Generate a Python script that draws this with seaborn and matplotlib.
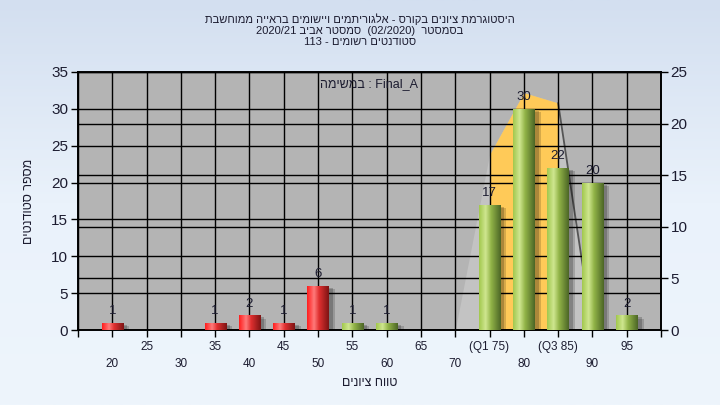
import numpy as np
import pandas as pd
import matplotlib
matplotlib.use("Agg")
import matplotlib.pyplot as plt
import matplotlib.patheffects as pe
from matplotlib.colors import LinearSegmentedColormap
import seaborn as sns

# ---- data -------------------------------------------------------------
grades = [20, 35, 40, 45, 50, 55, 60, 75, 80, 85, 90, 95]
counts = [1, 1, 2, 1, 6, 1, 1, 17, 30, 22, 20, 2]
pass_grade = 55

tick_values = [20, 25, 30, 35, 40, 45, 50, 55, 60, 65, 70, 75, 80, 85, 90, 95]
tick_labels = ["20", "25", "30", "35", "40", "45", "50", "55", "60", "65",
               "70", "(Q1 75)", "80", "(Q3 85)", "90", "95"]

# distribution envelope (right-hand scale) and inter-quartile part of it
env_x = [70, 75, 80, 85, 90]
env_y = [0, 17, 23, 22, 0]
q1, q3 = 75, 85

title_lines = [
    "היסטוגרמת ציונים בקורס - אלגוריתמים ויישומים בראייה ממוחשבת",
    "בסמסטר  (02/2020)  סמסטר אביב 2020/21",
    "סטודנטים רשומים - 113",
]
task_label = ("במשימה", "Final_A")
y_label = "מספר סטודנטים"
x_label = "טווח ציונים"


def is_hebrew(word):
    return any("\u0590" <= ch <= "\u05ff" for ch in word)


def rtl(text):
    """Lay out a right-to-left line in visual (left-to-right) order."""
    words = text.split(" ")
    return " ".join(w[::-1] if is_hebrew(w) else w for w in reversed(words))


# ---- style -------------------------------------------------------------
sns.set_theme(style="white")
plt.rcParams["font.family"] = ["Liberation Sans", "DejaVu Sans"]
text_color = "#1c1c30"

fig = plt.figure(figsize=(7.2, 4.05), dpi=100)

# soft blue background gradient
bg = fig.add_axes([0, 0, 1, 1], zorder=-10)
bg_grad = np.linspace(0, 1, 256).reshape(-1, 1)
bg_cmap = LinearSegmentedColormap.from_list("bg", ["#d3dff0", "#eaf2fb", "#eef5fc"])
bg.imshow(bg_grad, aspect="auto", cmap=bg_cmap, extent=[0, 1, 0, 1])
bg.set_axis_off()

rect = [78 / 720, 1 - 330 / 405, (661 - 78) / 720, (330 - 72) / 405]
ax2 = fig.add_axes(rect)          # right-hand scale, holds the envelope
ax = fig.add_axes(rect, sharex=ax2, zorder=ax2.get_zorder() + 1)
ax.patch.set_visible(False)

ax2.set_facecolor("#b4b4b4")
ax2.yaxis.tick_right()
ax2.yaxis.set_label_position("right")

# ---- envelope on the right-hand scale -----------------------------------
ax2.fill_between(env_x, env_y, color="#c3c3c3", lw=0, zorder=0.2)
iq = [(x, y) for x, y in zip(env_x, env_y) if q1 <= x <= q3]
ax2.fill_between([p[0] for p in iq], [p[1] for p in iq], color="#ffca58",
                 lw=0, zorder=0.3)
ax2.plot(env_x[-2:], env_y[-2:], color="#555555", lw=1.3, zorder=0.35)

ax2.set_ylim(0, 25)
ax2.set_yticks([0, 5, 10, 15, 20, 25])
ax2.set_axisbelow(True)
ax2.grid(axis="y", color="black", lw=1.0)
ax2.grid(axis="x", visible=False)

# ---- bars --------------------------------------------------------------
df = pd.DataFrame({"grade": grades, "count": counts})
sns.barplot(data=df, x="grade", y="count", native_scale=True, width=0.62,
            color="#cc3333", ax=ax, zorder=3, errorbar=None)

ax.set_xlim(15, 100)
ax.set_ylim(0, 35)

red_cmap = LinearSegmentedColormap.from_list(
    "red", [(0, "#ff1e1e"), (0.32, "#ff7a7a"), (0.55, "#e03030"), (1, "#7e1414")])
green_cmap = LinearSegmentedColormap.from_list(
    "green", [(0, "#a2c84e"), (0.3, "#cfe690"), (0.55, "#92b448"), (1, "#4c6626")])
hgrad = np.linspace(0, 1, 64).reshape(1, -1)

for patch, g in zip(ax.patches, grades):
    x0, y0 = patch.get_x(), patch.get_y()
    w, h = patch.get_width(), patch.get_height()
    patch.set_facecolor("none")
    patch.set_edgecolor("none")
    patch.set_path_effects([
        pe.SimplePatchShadow(offset=(4.5, -2.5), shadow_rgbFace="black", alpha=0.16),
        pe.SimplePatchShadow(offset=(3, -1.5), shadow_rgbFace="black", alpha=0.2),
        pe.Normal(),
    ])
    cmap = green_cmap if g >= pass_grade else red_cmap
    im = ax.imshow(hgrad, cmap=cmap, aspect="auto",
                   extent=[x0, x0 + w, y0, y0 + h], zorder=3.5)
    im.set_clip_path(patch)

ax.set_xlim(15, 100)
ax.set_ylim(0, 35)
ax.set_aspect("auto")

ax.bar_label(ax.containers[0], labels=[str(c) for c in counts], padding=4,
             fontsize=9.5, color=text_color, zorder=5)

# ---- axes, ticks, grid -------------------------------------------------
ax.set_yticks([0, 5, 10, 15, 20, 25, 30, 35])
ax.set_axisbelow(True)
ax.grid(axis="y", color="black", lw=1.0)
ax.grid(axis="x", color="black", lw=1.0)
ax.set_xticks(list(range(15, 101, 5)))
ax.set_xticklabels([])

for a in (ax, ax2):
    for s in a.spines.values():
        s.set_color("black")
        s.set_linewidth(1.2)
        s.set_visible(True)

ax.tick_params(axis="y", direction="out", length=5, width=1, color="black",
               labelsize=11, labelcolor=text_color, pad=2, left=True)
ax2.tick_params(axis="y", direction="out", length=5, width=1, color="black",
                labelsize=11, labelcolor=text_color, pad=2, right=True)
ax.tick_params(axis="x", direction="out", length=5, width=1, color="black",
               bottom=True)
ax2.tick_params(axis="x", bottom=False, labelbottom=False)

# staggered category labels below the axis
for v, lab in zip(tick_values, tick_labels):
    row = 0 if (v // 5) % 2 == 1 else 1
    ax.annotate(lab, xy=(v, 0), xycoords=("data", "axes fraction"),
                xytext=(0, -12 - 12.5 * row), textcoords="offset points",
                ha="center", va="center", fontsize=8.5, color=text_color)

ax.set_xlabel(rtl(x_label), fontsize=9, color=text_color, labelpad=25)
ax.set_ylabel(rtl(y_label), fontsize=9, color=text_color, labelpad=12)

# task name inside the plot area
ax.text(0.5, 0.955, task_label[0][::-1] + " : " + task_label[1],
        transform=ax.transAxes, ha="center", va="center", fontsize=9,
        color=text_color, zorder=6)

# three-line heading
fig.text(0.5, 1 - 30 / 405, "\n".join(rtl(t) for t in title_lines),
         ha="center", va="center", fontsize=8, color=text_color,
         linespacing=1.12)

fig.savefig("out.png", dpi=100)
